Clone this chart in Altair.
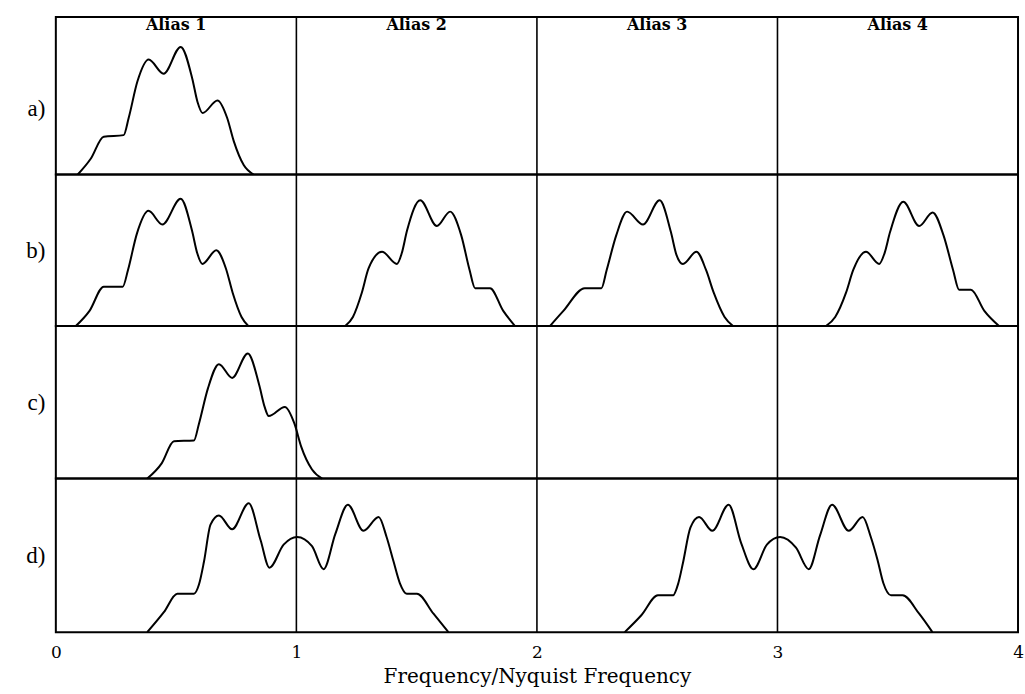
import altair as alt
import pandas as pd

# ---------------- data ----------------
row_labels = ["a)", "b)", "c)", "d)"]
alias_labels = ["Alias 1", "Alias 2", "Alias 3", "Alias 4"]
alias_centres = [0.5, 1.5, 2.5, 3.5]
nyquist_lines = [1, 2, 3]
x_ticks = [0, 1, 2, 3, 4]

# row a) : original spectrum
a1_x = [0.091, 0.145, 0.199, 0.282, 0.303, 0.339, 0.386, 0.448, 0.519, 0.567, 0.589, 0.610, 0.672, 0.712, 0.740, 0.781, 0.822]
a1_y = [0.0, 0.10, 0.24, 0.25, 0.36, 0.59, 0.73, 0.64, 0.81, 0.61, 0.46, 0.39, 0.47, 0.36, 0.21, 0.06, 0.0]

# row b) : sampled spectrum, four aliases
b1_x = [0.083, 0.140, 0.199, 0.278, 0.300, 0.337, 0.385, 0.443, 0.519, 0.566, 0.588, 0.609, 0.667, 0.707, 0.735, 0.772, 0.800]
b1_y = [0.0, 0.10, 0.26, 0.26, 0.37, 0.61, 0.76, 0.67, 0.84, 0.63, 0.48, 0.41, 0.50, 0.38, 0.22, 0.06, 0.0]
b2_x = [1.203, 1.235, 1.272, 1.300, 1.356, 1.418, 1.438, 1.460, 1.515, 1.584, 1.639, 1.685, 1.720, 1.743, 1.805, 1.860, 1.909]
b2_y = [0.0, 0.06, 0.22, 0.38, 0.49, 0.41, 0.48, 0.63, 0.83, 0.66, 0.755, 0.60, 0.37, 0.25, 0.25, 0.10, 0.0]
b3_x = [2.054, 2.110, 2.199, 2.268, 2.290, 2.330, 2.375, 2.441, 2.510, 2.557, 2.580, 2.607, 2.663, 2.703, 2.735, 2.780, 2.815]
b3_y = [0.0, 0.10, 0.25, 0.25, 0.37, 0.60, 0.755, 0.67, 0.83, 0.62, 0.47, 0.41, 0.49, 0.37, 0.22, 0.06, 0.0]
b4_x = [3.202, 3.240, 3.285, 3.315, 3.368, 3.423, 3.445, 3.468, 3.523, 3.589, 3.645, 3.690, 3.730, 3.755, 3.804, 3.860, 3.921]
b4_y = [0.0, 0.06, 0.22, 0.37, 0.49, 0.41, 0.48, 0.62, 0.82, 0.66, 0.75, 0.60, 0.37, 0.24, 0.24, 0.10, 0.0]

# row c) : spectrum extending past Nyquist
c1_x = [0.380, 0.440, 0.491, 0.574, 0.595, 0.632, 0.678, 0.733, 0.798, 0.846, 0.868, 0.885, 0.952, 0.992, 1.020, 1.065, 1.107]
c1_y = [0.0, 0.10, 0.245, 0.25, 0.36, 0.59, 0.75, 0.66, 0.82, 0.61, 0.47, 0.41, 0.47, 0.36, 0.21, 0.06, 0.0]

# row d) : aliased (overlapping) spectrum
d1_x = [0.380, 0.449, 0.505, 0.574, 0.595, 0.616, 0.643, 0.678, 0.733, 0.802, 0.851, 0.888, 0.947, 1.003,
        1.065, 1.113, 1.162, 1.214, 1.279, 1.342, 1.375, 1.404, 1.430, 1.459, 1.501, 1.570, 1.632]
d1_y = [0.0, 0.13, 0.25, 0.25, 0.31, 0.46, 0.70, 0.76, 0.67, 0.84, 0.60, 0.42, 0.57, 0.62,
        0.56, 0.41, 0.64, 0.83, 0.66, 0.75, 0.62, 0.46, 0.32, 0.25, 0.25, 0.12, 0.0]
d2_x = [2.365, 2.434, 2.503, 2.566, 2.588, 2.607, 2.638, 2.674, 2.729, 2.797, 2.849, 2.900, 2.956, 3.011,
        3.077, 3.130, 3.177, 3.227, 3.296, 3.354, 3.388, 3.416, 3.440, 3.472, 3.520, 3.589, 3.644]
d2_y = [0.0, 0.11, 0.24, 0.24, 0.32, 0.45, 0.68, 0.75, 0.66, 0.83, 0.58, 0.41, 0.57, 0.62,
        0.55, 0.41, 0.63, 0.83, 0.66, 0.75, 0.62, 0.47, 0.32, 0.24, 0.24, 0.12, 0.0]

rows = [
    [(a1_x, a1_y)],
    [(b1_x, b1_y), (b2_x, b2_y), (b3_x, b3_y), (b4_x, b4_y)],
    [(c1_x, c1_y)],
    [(d1_x, d1_y), (d2_x, d2_y)],
]
row_heights = [158, 152, 153, 154]

# ---------------- chart ----------------
SERIF = "Liberation Serif"
WIDE = "DejaVu Serif"
W = 965

xscale = alt.Scale(domain=[0, 4], nice=False, zero=False)
yscale = alt.Scale(domain=[0, 1], nice=False)

vlines = pd.DataFrame({"x": nyquist_lines})
heads = pd.DataFrame({"x": alias_centres, "label": alias_labels})

panels = []
for i, segs in enumerate(rows):
    recs = []
    for s, (xs, ys) in enumerate(segs):
        for xv, yv in zip(xs, ys):
            recs.append({"x": xv, "amp": yv, "seg": s})
    df = pd.DataFrame(recs)
    h = row_heights[i]
    bottom = i == len(rows) - 1
    if bottom:
        xaxis = alt.Axis(values=x_ticks, format="d", labelFlush=False, ticks=False, domain=False,
                         grid=False, labelPadding=12, labelFont=WIDE, labelFontSize=17,
                         labelColor="black", title="Frequency/Nyquist Frequency",
                         titleFont=WIDE, titleFontSize=20, titleFontWeight="normal",
                         titleColor="black", titlePadding=6)
    else:
        xaxis = None
    ty = h / 2 + (13 if i == 0 else 0)
    yaxis = alt.Axis(title=row_labels[i], titleAngle=0, titleAlign="right", titleBaseline="middle",
                     titleX=-11, titleY=ty, labels=False, ticks=False, domain=False, grid=False,
                     titleFont=SERIF, titleFontSize=23, titleFontWeight="normal", titleColor="black")
    line = alt.Chart(df).mark_line(color="black", strokeWidth=2, interpolate="monotone").encode(
        x=alt.X("x:Q", scale=xscale, axis=xaxis),
        y=alt.Y("amp:Q", scale=yscale, axis=yaxis),
        detail="seg:N",
    )
    rule = alt.Chart(vlines).mark_rule(color="black", strokeWidth=1.6).encode(
        x=alt.X("x:Q", scale=xscale, axis=xaxis)
    )
    layers = [rule, line]
    if i == 0:
        txt = alt.Chart(heads).mark_text(font=WIDE, fontSize=16, fontWeight="bold",
                                         baseline="middle", color="black").encode(
            x=alt.X("x:Q", scale=xscale, axis=xaxis),
            y=alt.value(8),
            text="label:N",
        )
        layers.append(txt)
    panels.append(alt.layer(*layers).properties(width=W, height=h))

chart = alt.vconcat(*panels, spacing=0, bounds="flush").properties(
    padding={"left": 24, "top": 14, "right": 0, "bottom": 0},
    background="white",
).configure_view(stroke="black", strokeWidth=2).configure_axis(grid=False)

chart.save("out.html", embed_options={"renderer": "svg", "actions": False})
